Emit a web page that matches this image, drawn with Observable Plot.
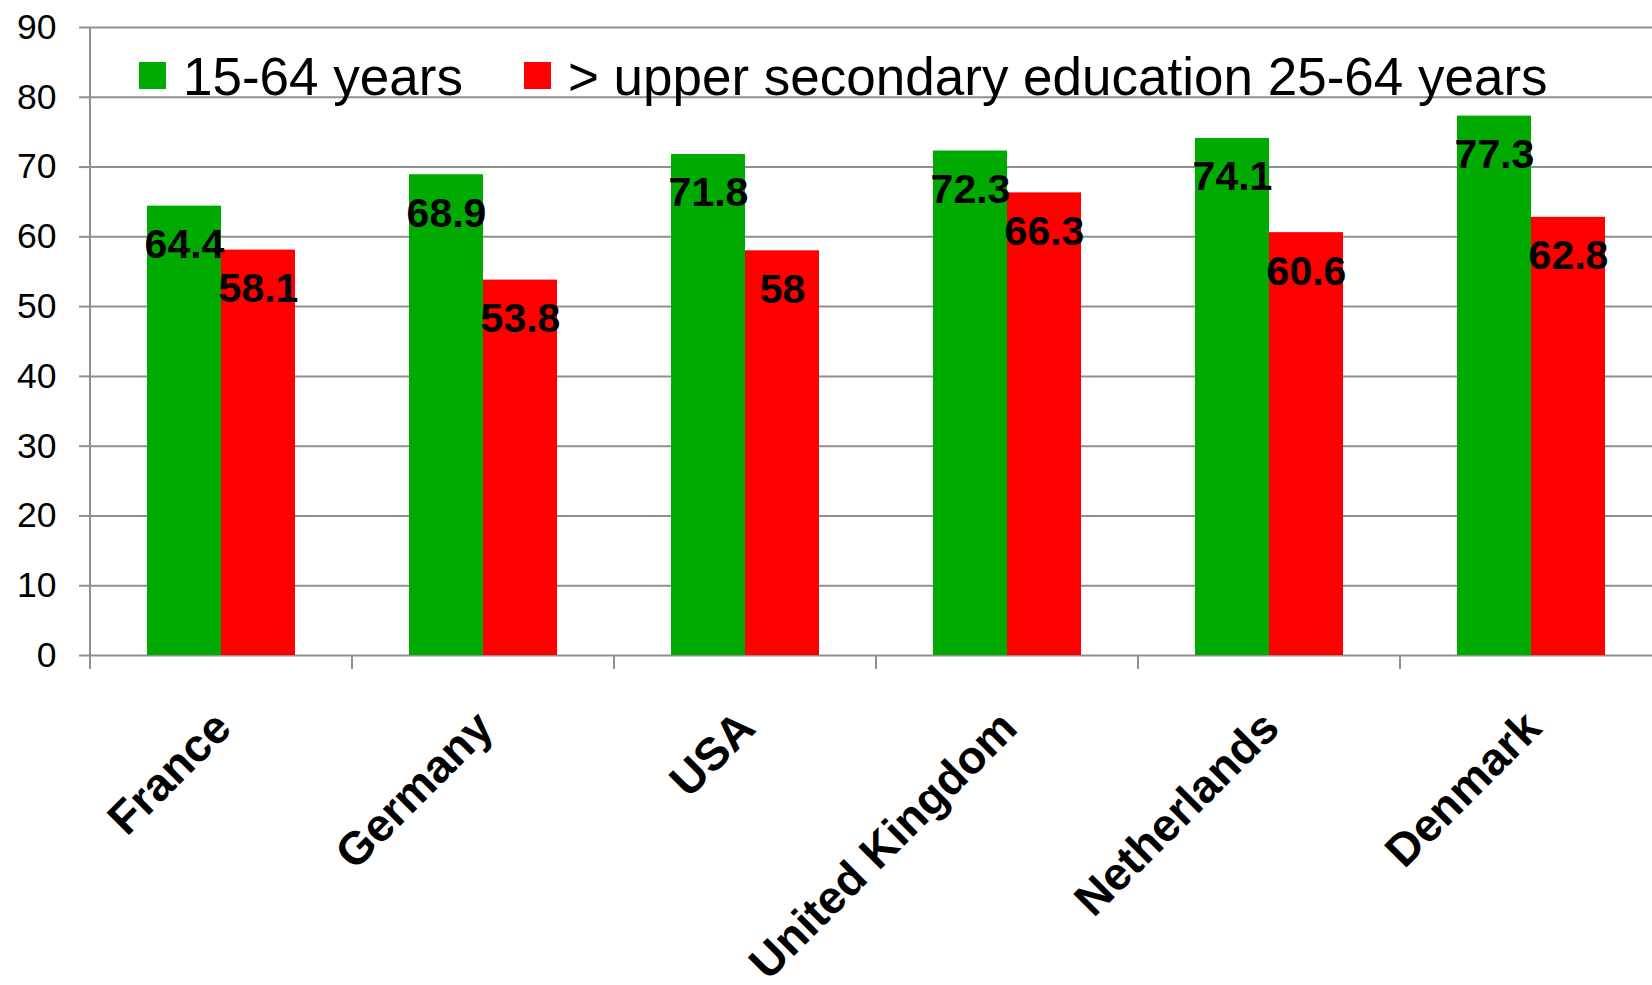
<!DOCTYPE html>
<html>
<head>
<meta charset="utf-8">
<script src="https://cdn.jsdelivr.net/npm/d3@7"></script>
<script src="https://cdn.jsdelivr.net/npm/@observablehq/plot@0.6"></script>
<style>
  html, body { margin: 0; padding: 0; background: #fff; overflow: hidden; }
  #chart {
    position: relative;
    width: 1652px;
    height: 985px;
    overflow: hidden;
    font-family: "Liberation Sans", Arial, sans-serif;
  }
  #chart svg { display: block; max-width: none !important; }
  .legend {
    position: absolute;
    left: 139px;
    top: 50px;
    display: flex;
    gap: 61px;
    font-size: 53px;
    line-height: 53px;
    color: #000;
  }
  .legend .item { display: flex; align-items: flex-start; gap: 17px; }
  .legend .swatch { width: 27px; height: 27px; margin-top: 12px; flex: none; }
</style>
</head>
<body>
<div id="chart"></div>
<script>
// Employment rates by country (%)
const countries = ["France", "Germany", "USA", "United Kingdom", "Netherlands", "Denmark"];
const seriesNames = ["15-64 years", "> upper secondary education 25-64 years"];
const ages15to64 = [64.4, 68.9, 71.8, 72.3, 74.1, 77.3];
const upperSecondary25to64 = [58.1, 53.8, 58, 66.3, 60.6, 62.8];
const seriesColors = ["#00aa00", "#ff0000"];
const yTicks = [0, 10, 20, 30, 40, 50, 60, 70, 80, 90];

const rows = countries.flatMap((country, i) => [
  {country, series: seriesNames[0], value: ages15to64[i]},
  {country, series: seriesNames[1], value: upperSecondary25to64[i]}
]);

const gridColor = "#8f8f8f";
const font = "Liberation Sans, Arial, sans-serif";

const plot = Plot.plot({
  width: 1664,
  height: 985,
  marginLeft: 88,
  marginRight: 0,
  marginTop: 27,
  marginBottom: 330,
  style: {fontFamily: font, background: "transparent", maxWidth: "none"},
  fx: {domain: countries, padding: 0, axis: null},
  x: {domain: seriesNames, paddingInner: 0, paddingOuter: 0.751, axis: null},
  y: {domain: [0, 90], axis: null},
  color: {domain: seriesNames, range: seriesColors},
  marks: [
    Plot.gridY(yTicks, {stroke: gridColor, strokeOpacity: 1, strokeWidth: 2}),
    Plot.axisY(yTicks, {
      tickSize: 11, tickPadding: 23, fontSize: 35.5,
      stroke: gridColor, strokeWidth: 2, fill: "#000",
      tickFormat: d => String(d), label: null
    }),
    Plot.barY(rows, {fx: "country", x: "series", y: "value", fill: "series"}),
    Plot.text(rows, {
      fx: "country", x: "series", y: "value",
      text: d => String(d.value),
      lineAnchor: "bottom", dy: 52,
      fontSize: 41, fontWeight: "bold", fill: "#000"
    }),
    Plot.text(countries, {
      fx: d => d, text: d => d,
      frameAnchor: "bottom", rotate: -45,
      textAnchor: "end", lineAnchor: "bottom",
      dx: 12, dy: 75,
      fontSize: 46, fontWeight: "bold", fill: "#000"
    })
  ]
});

// Vertical axis line and category separator ticks below the baseline
const fxScale = plot.scale("fx");
const yScale = plot.scale("y");
const y0 = yScale.apply(0);
const yTop = yScale.apply(90);
const tickLen = 14;
const fxLeft = c => fxScale.apply(c);
const bandEnd = fxLeft(countries[countries.length - 1]) + fxScale.bandwidth;

const g = d3.select(plot).append("g")
  .attr("stroke", gridColor)
  .attr("stroke-width", 2);
const axisX = fxLeft(countries[0]);
g.append("line")
  .attr("x1", axisX).attr("x2", axisX)
  .attr("y1", yTop).attr("y2", y0 + tickLen);
countries.slice(1).map(fxLeft).concat([bandEnd]).forEach(x => {
  g.append("line")
    .attr("x1", x).attr("x2", x)
    .attr("y1", y0).attr("y2", y0 + tickLen);
});

const chart = document.getElementById("chart");
chart.appendChild(plot);

// Legend
const legend = document.createElement("div");
legend.className = "legend";
seriesNames.forEach((name, i) => {
  const item = document.createElement("div");
  item.className = "item";
  const sw = document.createElement("span");
  sw.className = "swatch";
  sw.style.background = seriesColors[i];
  const label = document.createElement("span");
  label.textContent = name;
  item.appendChild(sw);
  item.appendChild(label);
  legend.appendChild(item);
});
chart.appendChild(legend);
</script>
</body>
</html>
